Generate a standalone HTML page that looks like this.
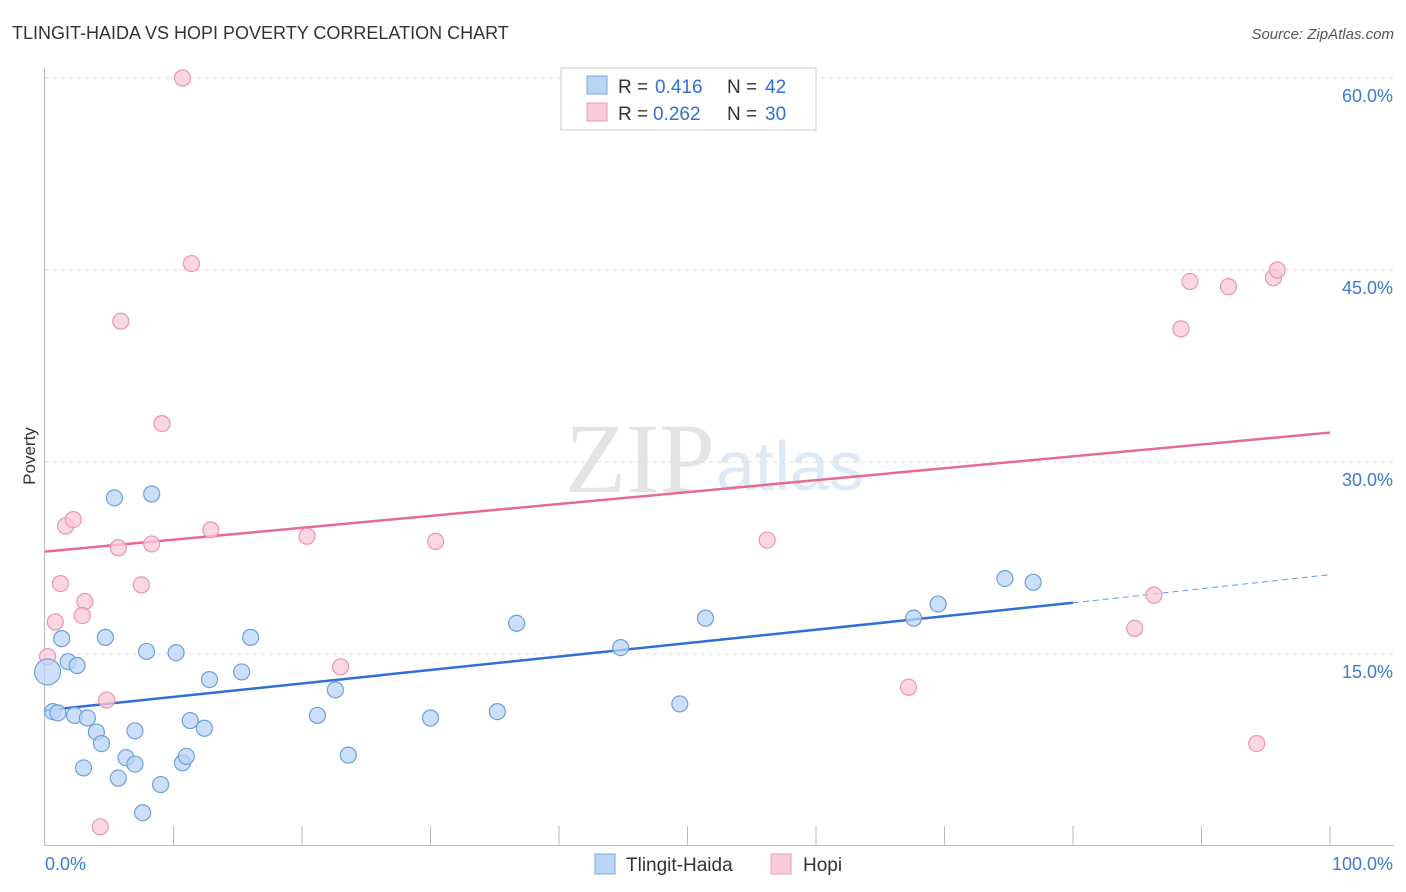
<!DOCTYPE html>
<html><head><meta charset="utf-8"><style>
body{margin:0;background:#fff;font-family:"Liberation Sans",sans-serif}
svg{display:block}
</style></head><body>
<svg id="chart" width="1406" height="892">
<text x="12" y="39" font-size="18" fill="#333">TLINGIT-HAIDA VS HOPI POVERTY CORRELATION CHART</text>
<text x="1394" y="39" font-size="15" fill="#555" font-style="italic" text-anchor="end">Source: ZipAtlas.com</text>
<text x="35" y="456" font-size="17" fill="#333" transform="rotate(-90 35 456)" text-anchor="middle">Poverty</text>
<text x="715" y="492" font-size="100" fill="#e4e4e4" text-anchor="end" font-family="Liberation Serif,serif">ZIP</text>
<text x="716" y="490" font-size="70" fill="#dfe8f5">atlas</text>
<g id="grid"></g><g id="axes"></g><g id="lines"></g><g id="pts"></g>
<g>
<rect x="561" y="68" width="255" height="62" fill="#fff" stroke="#ccc"/>
<rect x="587" y="76" width="20" height="18" fill="#b9d4f5" stroke="#7aa8e0"/>
<text x="618" y="93" font-size="19" fill="#333">R =</text>
<text x="655" y="93" font-size="19" fill="#2f6fd6">0.416</text>
<text x="727" y="93" font-size="19" fill="#333">N =</text>
<text x="765" y="93" font-size="19" fill="#2f6fd6">42</text>
<rect x="587" y="103" width="20" height="18" fill="#f9cad8" stroke="#ee9ab4"/>
<text x="618" y="120" font-size="19" fill="#333">R =</text>
<text x="653" y="120" font-size="19" fill="#2f6fd6">0.262</text>
<text x="727" y="120" font-size="19" fill="#333">N =</text>
<text x="765" y="120" font-size="19" fill="#2f6fd6">30</text>
</g>
<g>
<rect x="595" y="854" width="20" height="20" fill="#b9d4f5" stroke="#7aa8e0"/>
<text x="626" y="871" font-size="19" fill="#333">Tlingit-Haida</text>
<rect x="771" y="854" width="20" height="20" fill="#f9cad8" stroke="#ee9ab4"/>
<text x="803" y="871" font-size="19" fill="#333">Hopi</text>
</g>
</svg>
<script>
const yTicks=[15,30,45,60];
const blueX=[0.2,0.6,1,1.3,1.8,2.5,2.3,3.3,4,4.4,3,4.7,5.4,5.7,6.3,7,7,7.6,7.9,8.3,9,10.2,10.7,11,11.3,12.4,12.8,15.3,16,21.2,22.6,23.6,30,35.2,36.7,44.8,49.4,51.4,67.6,69.5,74.7,76.9];
const blueY=[13.6,10.5,10.4,16.2,14.4,14.1,10.2,10,8.9,8,6.1,16.3,27.2,5.3,6.9,6.4,9,2.6,15.2,27.5,4.8,15.1,6.5,7,9.8,9.2,13,13.6,16.3,10.2,12.2,7.1,10,10.5,17.4,15.5,11.1,17.8,17.8,18.9,20.9,20.6];
const pinkX=[10.7,11.4,5.9,9.1,1.6,2.2,5.7,8.3,12.9,1.2,7.5,3.1,2.9,0.8,0.2,4.8,4.3,20.4,30.4,23,56.2,67.2,84.8,86.3,88.4,89.1,92.1,95.6,95.9,94.3];
const pinkY=[60,45.5,41,33,25,25.5,23.3,23.6,24.7,20.5,20.4,19.1,18,17.5,14.8,11.4,1.5,24.2,23.8,14,23.9,12.4,17,19.6,40.4,44.1,43.7,44.4,45,8];
const blueFit=[10.6,19.0,21.2], pinkFit=[23,32.3];
const X=v=>45+v*12.85, Y=v=>846-v*12.8;
const ns="http://www.w3.org/2000/svg";
function mk(t,a,p){const e=document.createElementNS(ns,t);for(const k in a)e.setAttribute(k,a[k]);p.appendChild(e);return e;}
const g=document.getElementById('grid'),ax=document.getElementById('axes'),ln=document.getElementById('lines'),pt=document.getElementById('pts');
yTicks.forEach(v=>{
 const l=mk('line',{x1:45,x2:1394,y1:Y(v),y2:Y(v),stroke:'#ddd','stroke-dasharray':'4,4'},g);
 
 
 const t=mk('text',{x:1393,y:Y(v)+24,'font-size':18,fill:'#3d78d6','text-anchor':'end'},g);t.textContent=v.toFixed(1)+'%';
 
 
});
const ya=mk('line',{x1:44.5,x2:44.5,y1:68,y2:846,stroke:'#bbb'},ax);


const xa=mk('line',{x1:45,x2:1394,y1:845.5,y2:845.5,stroke:'#bbb'},ax);


for(let i=1;i<=10;i++)mk('line',{x1:X(i*10),x2:X(i*10),y1:826,y2:846,stroke:'#bbb'},ax);
const t0=mk('text',{x:45,y:870,'font-size':18,fill:'#3d78d6'},ax);t0.textContent='0.0%';


const t1=mk('text',{x:1393,y:870,'font-size':18,fill:'#3d78d6','text-anchor':'end'},ax);t1.textContent='100.0%';


const b1=mk('line',{x1:X(0),y1:Y(blueFit[0]),x2:X(80),y2:Y(blueFit[1]),stroke:'#2f6fd6','stroke-width':2.5},ln);


mk('line',{x1:X(80),y1:Y(blueFit[1]),x2:X(100),y2:Y(blueFit[2]),stroke:'#6a9ae0','stroke-width':1,'stroke-dasharray':'6,4'},ln);
const p1=mk('line',{x1:X(0),y1:Y(pinkFit[0]),x2:X(100),y2:Y(pinkFit[1]),stroke:'#e76a95','stroke-width':2.5},ln);


function dots(xs,ys,fill,stroke,name){xs.forEach((v,i)=>{
 const big=i===0&&v<0.5;
 const c=mk('circle',{cx:X(v),cy:Y(ys[i]),r:big?13:8,fill:fill,stroke:stroke,'stroke-width':1.2,'fill-opacity':0.75},pt);
 
 
});}
dots(pinkX,pinkY,'#f9cad8','#ec95b1','hopi-point');
dots(blueX,blueY,'#b9d4f5','#6f9fdc','tlingit-haida-point');
</script>
</body></html>
